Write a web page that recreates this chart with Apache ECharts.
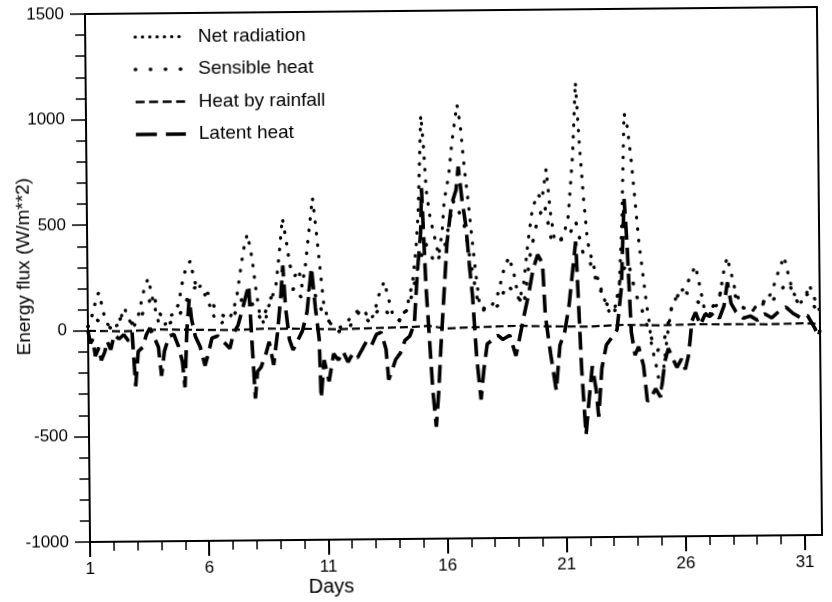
<!DOCTYPE html>
<html><head><meta charset="utf-8">
<script src="https://cdn.jsdelivr.net/npm/echarts@6/dist/echarts.min.js"></script>
<style>html,body{margin:0;padding:0;background:#fff;overflow:hidden}#c{width:832px;height:602px;transform-origin:88px 331px;transform:rotate(-0.55deg)}</style>
</head><body><div id="c"></div>
<script>
const seriesNames = ['Net radiation', 'Sensible heat', 'Heat by rainfall', 'Latent heat'];
const xName = 'Days';
const yName = 'Energy flux (W/m**2)';
const xTickDays = [1, 6, 11, 16, 21, 26, 31];

const netDays = [1.0,1.2,1.4,1.48,1.6,1.75,2.0,2.3,2.53,2.7,2.9,3.1,3.2,3.41,3.55,3.7,3.85,4.0,4.3,4.5,4.6,4.81,4.98,5.15,5.32,5.45,5.6,5.75,5.9,6.1,6.3,6.6,6.98,7.13,7.28,7.45,7.6,7.72,7.85,7.95,8.05,8.2,8.4,8.6,8.75,8.9,9.05,9.2,9.35,9.5,9.7,9.87,10.0,10.15,10.3,10.47,10.6,10.75,10.9,11.1,11.5,11.8,12.1,12.36,12.6,12.8,13.0,13.2,13.45,13.6,13.8,14.1,14.4,14.6,14.66,14.8,14.9,15.05,15.15,15.25,15.4,15.6,15.75,15.9,16.0,16.2,16.35,16.57,16.7,16.85,17.0,17.15,17.3,17.45,17.6,17.9,18.2,18.5,18.7,18.9,19.1,19.3,19.5,19.7,19.93,20.1,20.29,20.45,20.6,20.8,21.0,21.2,21.4,21.55,21.7,21.85,22.0,22.2,22.5,22.7,22.9,23.1,23.3,23.45,23.58,23.7,23.85,24.0,24.15,24.3,24.45,24.55,24.65,24.8,24.95,25.05,25.15,25.3,25.5,25.8,26.1,26.3,26.52,26.7,26.9,27.2,27.5,27.7,27.85,28.0,28.2,28.5,28.8,29.1,29.4,29.7,30.0,30.24,30.4,30.6,30.9,31.1,31.29,31.5,31.72];
const netVals = [20,80,170,180,115,40,10,30,108,60,10,60,110,212,245,160,90,20,30,70,75,122,226,300,325,250,190,210,170,120,60,30,60,100,170,300,400,450,380,300,200,80,20,110,155,200,350,525,420,300,250,280,200,300,450,620,480,300,120,30,0,20,60,85,85,40,60,150,220,150,60,30,100,195,232,375,540,1006,860,650,520,420,340,450,600,720,880,1055,960,760,600,420,250,100,80,90,150,280,330,250,120,200,400,560,627,600,745,540,420,400,430,520,800,1156,850,600,400,300,193,120,60,80,150,500,1006,950,800,600,400,250,100,20,-100,-170,-265,-300,-200,-60,90,150,180,230,280,180,60,50,120,250,320,250,150,80,60,80,100,150,250,320,240,150,100,120,185,120,60];

const sensDays = [1.0,1.3,1.6,2.0,2.4,2.8,3.2,3.5,3.75,4.0,4.4,4.8,5.2,5.5,5.8,6.1,6.4,6.8,7.1,7.5,7.9,8.3,8.7,9.0,9.4,9.7,10.0,10.4,10.8,11.2,11.6,12.0,12.4,12.8,13.3,13.7,14.2,14.6,14.9,15.2,15.6,16.0,16.4,16.8,17.1,17.4,17.8,18.2,18.6,19.0,19.3,19.6,19.9,20.2,20.5,20.9,21.2,21.5,21.8,22.1,22.4,22.8,23.1,23.4,23.7,24.0,24.3,24.6,24.9,25.2,25.5,25.9,26.3,26.7,27.0,27.4,27.8,28.1,28.5,28.9,29.2,29.6,30.0,30.4,30.8,31.2,31.5,31.72];
const sensVals = [20,60,30,10,60,30,60,120,170,80,30,60,150,200,180,170,80,60,60,150,120,40,150,170,150,200,140,200,90,20,-20,10,80,30,100,60,30,150,300,400,300,380,600,500,300,100,80,100,200,150,100,350,500,580,400,410,420,500,350,300,200,100,60,250,300,150,60,-50,-120,-60,80,170,140,100,40,120,200,150,80,60,120,90,150,200,100,140,80,40];

const rainDays = [1.0,2.5,4.0,5.5,7.0,8.5,10.0,11.5,13.0,14.5,15.3,16.0,17.5,19.0,20.5,22.0,23.5,25.0,26.5,28.0,29.5,31.0,31.72];
const rainVals = [0,-4,3,0,-3,2,0,-4,0,3,8,-5,0,4,0,-3,4,0,3,2,0,3,0];

const latDays = [1.0,1.1,1.2,1.3,1.45,1.55,1.7,1.8,1.95,2.1,2.3,2.5,2.7,2.85,2.98,3.1,3.3,3.45,3.6,3.8,3.95,4.07,4.2,4.4,4.6,4.8,4.95,5.05,5.15,5.26,5.35,5.5,5.7,5.9,6.05,6.2,6.45,6.7,6.95,7.1,7.3,7.5,7.76,7.85,8.0,8.1,8.25,8.45,8.6,8.78,8.95,9.1,9.2,9.3,9.45,9.6,9.8,10.0,10.2,10.4,10.55,10.7,10.76,10.9,11.0,11.1,11.3,11.5,11.7,11.9,12.1,12.3,12.5,12.7,12.9,13.1,13.3,13.5,13.6,13.75,13.9,14.1,14.3,14.5,14.7,14.85,15.0,15.05,15.2,15.35,15.45,15.58,15.7,15.8,15.95,16.1,16.3,16.5,16.6,16.75,16.9,17.05,17.15,17.3,17.47,17.6,17.75,18.0,18.2,18.4,18.7,18.95,19.1,19.3,19.5,19.7,19.9,20.1,20.2,20.4,20.63,20.8,21.0,21.2,21.4,21.5,21.6,21.7,21.86,22.0,22.15,22.3,22.4,22.55,22.75,22.95,23.2,23.4,23.55,23.65,23.8,23.95,24.1,24.3,24.45,24.6,24.8,25.0,25.2,25.35,25.5,25.7,25.9,26.05,26.2,26.35,26.5,26.7,26.9,27.1,27.3,27.5,27.7,27.85,28.0,28.2,28.5,28.8,29.1,29.4,29.7,30.0,30.3,30.6,30.9,31.2,31.5,31.65,31.72];
const latVals = [0,-60,-40,-120,-80,-140,-100,-50,-90,-20,-40,-20,-50,-10,-265,-100,-80,-20,10,-40,-80,-217,-100,-30,-20,-80,-150,-272,0,146,50,-30,-80,-170,-110,-40,-30,-60,-90,-20,20,100,209,0,-328,-200,-180,-120,-60,-170,-20,150,300,100,-50,-100,-55,-10,80,290,100,-50,-330,-150,-200,-250,-120,-150,-110,-160,-120,-140,-100,-60,-80,-30,-20,-100,-245,-200,-150,-120,-60,-40,20,270,450,660,200,-100,-300,-470,-300,-100,150,400,580,650,760,600,480,270,150,-140,-343,-200,-80,-60,-40,-60,-40,-138,-60,50,150,270,340,300,50,-125,-305,-90,-30,100,300,400,100,-200,-515,-350,-190,-300,-430,-200,-90,-60,-20,180,600,400,-30,-140,-100,-190,-360,-340,-300,-340,-170,-110,-150,-200,-160,-210,-140,20,60,0,50,40,60,30,90,200,100,60,30,40,20,50,30,60,80,50,30,40,-20,-60,-30];

const xTickStart = 1, xTickStep = 5, xEnd = 31.72;
const yMin = -1000, yMax = 1500, yStep = 500;

function pairs(d, v) { return d.map((x, i) => [x, v[i]]); }

const FONT = '"Liberation Sans", Arial, Helvetica, sans-serif';
const chart = echarts.init(document.getElementById('c'), null, {renderer: 'canvas'});

const styles = [
  {width: 3.2, type: [0.5, 11], cap: 'round'},
  {width: 3.4, type: [0.5, 14], cap: 'round'},
  {width: 2.2, type: [8, 4], cap: 'butt'},
  {width: 3.6, type: [18, 8], cap: 'butt'}
];
const legendStyles = [
  {width: 3, type: [0.5, 6.8], cap: 'round'},
  {width: 3.4, type: [0.5, 14.5], cap: 'round'},
  {width: 2.6, type: [9, 4.5], cap: 'butt'},
  {width: 3.6, type: [21, 9], cap: 'butt'}
];
const dataSets = [pairs(netDays, netVals), pairs(sensDays, sensVals), pairs(rainDays, rainVals), pairs(latDays, latVals)];

chart.setOption({
  animation: false,
  backgroundColor: '#fff',
  grid: {left: 88, right: 12, top: 14, bottom: 60, show: true, borderColor: '#000', borderWidth: 2, backgroundColor: 'transparent'},
  legend: {
    orient: 'vertical', left: 131, top: 23, itemWidth: 50, itemHeight: 14, itemGap: 13.5,
    data: seriesNames.map((n, i) => ({name: n, lineStyle: Object.assign({color: '#000'}, legendStyles[i]), itemStyle: {opacity: 0}})),
    itemStyle: {opacity: 0},
    textStyle: {fontFamily: FONT, fontSize: 19, color: '#000', padding: [0, 0, 0, 8]},
    selectedMode: false
  },
  xAxis: {
    type: 'value', min: xTickStart, max: xEnd, interval: xTickStep,
    axisLine: {onZero: false, lineStyle: {color: '#000', width: 2}},
    axisTick: {length: 15, customValues: xTickDays, lineStyle: {color: '#000', width: 2}},
    minorTick: {show: true, splitNumber: 5, length: 9, lineStyle: {color: '#000', width: 1.5}},
    splitLine: {show: false},
    axisLabel: {color: '#000', fontFamily: FONT, fontSize: 17, margin: 19, customValues: xTickDays,
      formatter: v => String(v)}
  },
  yAxis: {
    type: 'value', min: yMin, max: yMax, interval: yStep,
    axisLine: {onZero: false, lineStyle: {color: '#000', width: 2}},
    axisTick: {length: 15, lineStyle: {color: '#000', width: 1.5}},
    minorTick: {show: true, splitNumber: 5, length: 10, lineStyle: {color: '#000', width: 1.5}},
    splitLine: {show: false},
    axisLabel: {color: '#000', fontFamily: FONT, fontSize: 17, margin: 21, formatter: v => String(v)}
  },
  graphic: [
    {type: 'text', x: 329, y: 589, style: {text: xName, fill: '#000', font: '20px ' + FONT, textAlign: 'center', textVerticalAlign: 'middle'}},
    {type: 'text', x: 25, y: 266, rotation: Math.PI / 2, style: {text: yName, fill: '#000', font: '19px ' + FONT, textAlign: 'center', textVerticalAlign: 'middle'}}
  ],
  series: seriesNames.map((n, i) => ({
    name: n, type: 'line', symbol: 'none', showSymbol: false, clip: true,
    data: dataSets[i],
    lineStyle: Object.assign({color: '#000'}, styles[i]),
    itemStyle: {color: '#000'},
    z: 2 + i
  }))
});
</script></body></html>
